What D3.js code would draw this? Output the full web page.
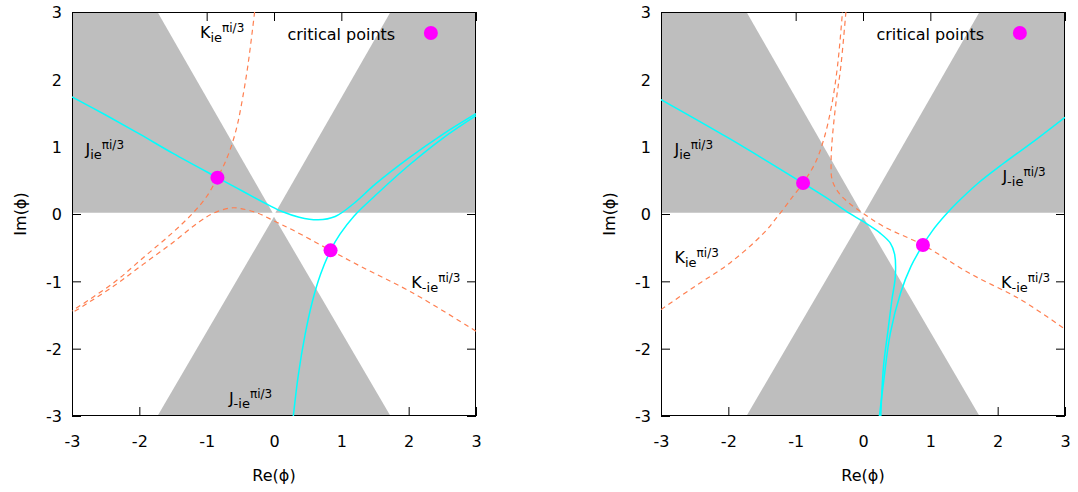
<!DOCTYPE html>
<html>
<head>
<meta charset="utf-8">
<script src="https://cdn.jsdelivr.net/npm/d3@7"></script>
<style>
  body { margin: 0; background: #fff; }
  text { font-family: "DejaVu Sans", Verdana, sans-serif; fill: #000; }
</style>
</head>
<body>
<svg id="chart" width="1078" height="492"></svg>
<script>
// Axis ticks shared by both panels
const tickValues = [-3, -2, -1, 0, 1, 2, 3];

// Convergence wedges (grey): arg(phi) in [0,60], [120,180], [240,300] degrees
const wedgeUpperLeft  = [[-0.02, 0.02], [-1.73, 3], [-3, 3], [-3, 0.02]];
const wedgeUpperRight = [[0.02, 0.02], [3, 0.02], [3, 3], [1.73, 3]];
const wedgeLower      = [[0, -0.04], [-1.73, -3], [1.73, -3]];

// Left panel: thimbles J (solid) and dual thimbles K (dashed)
const leftJplus = [[-3, 1.74], [-2.5, 1.47], [-2, 1.19], [-1.5, 0.9], [-0.84, 0.54], [-0.45, 0.33], [-0.085, 0.136],
  [0.119, 0.037], [0.374, -0.047], [0.654, -0.086], [0.909, -0.037], [1.19, 0.16], [1.5, 0.44], [2.0, 0.83], [2.5, 1.18], [3, 1.49]];
const leftJminus = [[0.287, -3], [0.36, -2.4], [0.46, -1.8], [0.57, -1.3], [0.69, -0.9], [0.84, -0.54], [0.98, -0.3],
  [1.19, -0.03], [1.5, 0.27], [2.0, 0.72], [2.5, 1.12], [3, 1.46]];
const leftKplus = [[-0.288, 3], [-0.39, 2.19], [-0.49, 1.59], [-0.55, 1.3], [-0.62, 1.05], [-0.72, 0.78], [-0.84, 0.54], [-1.0, 0.26],
  [-1.206, 0.012], [-1.51, -0.28], [-1.92, -0.63], [-2.38, -1.02], [-3, -1.44]];
const leftKminus = [[3, -1.74], [2.056, -1.17], [1.29, -0.78], [0.84, -0.54], [0.272, -0.235], [0.017, -0.111], [-0.238, 0.012],
  [-0.49, 0.08], [-0.645, 0.09], [-0.9, 0.012], [-1.104, -0.111], [-1.51, -0.43], [-1.92, -0.73], [-2.38, -1.07], [-3, -1.47]];
const leftCritical = [[-0.84, 0.54], [0.84, -0.54]];

// Right panel
const rightJplus = [[-3, 1.7], [-2, 1.13], [-0.89, 0.457], [-0.458, 0.185], [-0.204, 0.012], [0, -0.111], [0.254, -0.284],
  [0.406, -0.432], [0.47, -0.6], [0.48, -0.926], [0.43, -1.27], [0.366, -1.77], [0.305, -2.26], [0.264, -3]];
const rightJminus = [[0.244, -3], [0.305, -2.5], [0.406, -1.77], [0.559, -1.17], [0.712, -0.778], [0.89, -0.46], [1.03, -0.25],
  [1.22, -0.02], [1.4, 0.17], [1.7, 0.45], [2.085, 0.75], [2.59, 1.12], [3, 1.435]];
const rightKplus = [[-3, -1.42], [-2.49, -1.07], [-1.98, -0.73], [-1.475, -0.284], [-1.24, 0], [-1.05, 0.25], [-0.89, 0.46],
  [-0.712, 0.753], [-0.585, 1.1], [-0.47, 1.59], [-0.38, 2.185], [-0.305, 3]];
const rightKminus = [[2.97, -1.69], [2.34, -1.27], [1.576, -0.877], [0.89, -0.46], [0.305, -0.185], [0, 0.012], [-0.204, 0.16],
  [-0.356, 0.309], [-0.458, 0.506], [-0.473, 0.802], [-0.458, 1.1], [-0.397, 1.69], [-0.33, 2.185], [-0.254, 3]];
const rightCritical = [[-0.89, 0.46], [0.89, -0.46]];

// Curve labels: [main letter, subscript, superscript, anchor x, anchor y] in data units
const leftLabels = [
  ["K", "ie", "πi/3", -1.1, 2.62],
  ["J", "ie", "πi/3", -2.8, 0.87],
  ["K", "-ie", "πi/3", 2.04, -1.1],
  ["J", "-ie", "πi/3", -0.67, -2.82]
];
const rightLabels = [
  ["J", "ie", "πi/3", -2.8, 0.87],
  ["J", "-ie", "πi/3", 2.07, 0.48],
  ["K", "ie", "πi/3", -2.8, -0.73],
  ["K", "-ie", "πi/3", 2.05, -1.1]
];

const legendText = "critical points";
const axisX = "Re(ϕ)", axisY = "Im(ϕ)";

const svg = d3.select("#chart");
const plotTop = 12, plotBottom = 416;

function panel(id, left, right, curves, critical, labels) {
  const x = d3.scaleLinear().domain([-3, 3]).range([left, right]);
  const y = d3.scaleLinear().domain([-3, 3]).range([plotBottom, plotTop]);
  const g = svg.append("g");
  const fmt = d => String(d);

  // inward ticks on all sides (grey fill covers some of them)
  const axes = [
    d3.axisBottom(x).tickValues(tickValues).tickSizeInner(-9).tickSizeOuter(0).tickFormat(fmt),
    d3.axisTop(x).tickValues(tickValues).tickSizeInner(-9).tickSizeOuter(0).tickFormat(""),
    d3.axisLeft(y).tickValues(tickValues).tickSizeInner(-9).tickSizeOuter(0).tickFormat(fmt),
    d3.axisRight(y).tickValues(tickValues).tickSizeInner(-9).tickSizeOuter(0).tickFormat("")
  ];
  const pos = [`translate(0,${plotBottom})`, `translate(0,${plotTop})`, `translate(${left},0)`, `translate(${right},0)`];
  axes.forEach((a, i) => {
    const ag = g.append("g").attr("transform", pos[i]).call(a);
    ag.select(".domain").remove();
    ag.selectAll("line").attr("stroke", "#000").attr("stroke-width", 1);
    ag.selectAll("text").attr("font-size", 16).attr("font-family", "DejaVu Sans, Verdana, sans-serif").attr("fill", "#000");
    if (i === 0) ag.selectAll("text").attr("y", 0).attr("dy", null).attr("transform", "translate(0,31)");
    if (i === 2) ag.selectAll("text").attr("x", -10).attr("dy", "0.36em");
  });

  // grey wedges
  const poly = d3.line().x(d => x(d[0])).y(d => y(d[1]));
  [wedgeUpperLeft, wedgeUpperRight, wedgeLower].forEach(w => {
    g.append("path").attr("d", poly(w) + "Z").attr("fill", "#bebebe");
  });

  // border
  g.append("rect").attr("x", left + 0.5).attr("y", plotTop + 0.5)
    .attr("width", right - left - 1).attr("height", plotBottom - plotTop - 1)
    .attr("fill", "none").attr("stroke", "#000").attr("stroke-width", 1);

  // clip for curves
  g.append("clipPath").attr("id", id + "clip").append("rect")
    .attr("x", left).attr("y", plotTop).attr("width", right - left).attr("height", plotBottom - plotTop);
  const cg = g.append("g").attr("clip-path", `url(#${id}clip)`);
  const line = d3.line().x(d => x(d[0])).y(d => y(d[1])).curve(d3.curveCatmullRom.alpha(0.5));
  curves.forEach(c => {
    cg.append("path").attr("d", line(c.data)).attr("fill", "none")
      .attr("stroke", c.dashed ? "#ff7f50" : "#00ffff")
      .attr("stroke-width", c.dashed ? 1.2 : 1.5)
      .attr("stroke-dasharray", c.dashed ? "5,4" : null);
  });

  // critical points
  g.selectAll("circle.cp").data(critical).enter().append("circle")
    .attr("cx", d => x(d[0])).attr("cy", d => y(d[1])).attr("r", 7).attr("fill", "#ff00ff");

  // legend
  g.append("text").attr("x", x(1.8)).attr("y", plotTop + 28).attr("text-anchor", "end")
    .attr("font-size", 16).text(legendText);
  g.append("circle").attr("cx", x(2.33)).attr("cy", plotTop + 21).attr("r", 7).attr("fill", "#ff00ff");

  // curve labels with sub/superscripts
  labels.forEach(l => {
    const t = g.append("text").attr("x", x(l[3])).attr("y", y(l[4])).attr("font-size", 16);
    t.append("tspan").text(l[0]);
    t.append("tspan").attr("font-size", 13).attr("dy", 4).text(l[1]);
    t.append("tspan").attr("font-size", 12).attr("dy", -10).text(l[2]);
  });

  // axis titles
  g.append("text").attr("x", (left + right) / 2).attr("y", 481).attr("text-anchor", "middle")
    .attr("font-size", 16).text(axisX);
  g.append("text").attr("transform", `translate(${left - 46},${(plotTop + plotBottom) / 2}) rotate(-90)`)
    .attr("text-anchor", "middle").attr("font-size", 16).text(axisY);
}

panel("l", 72, 476, [
  { data: leftJplus, dashed: false },
  { data: leftJminus, dashed: false },
  { data: leftKplus, dashed: true },
  { data: leftKminus, dashed: true }
], leftCritical, leftLabels);

panel("r", 661, 1065, [
  { data: rightJplus, dashed: false },
  { data: rightJminus, dashed: false },
  { data: rightKplus, dashed: true },
  { data: rightKminus, dashed: true }
], rightCritical, rightLabels);
</script>
</body>
</html>
